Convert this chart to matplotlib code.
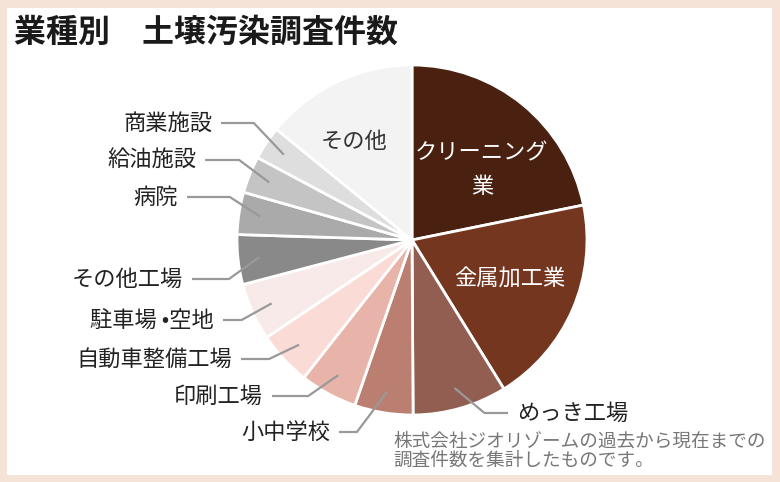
import numpy as np
from matplotlib import pyplot as plt

plt.rcParams['font.family'] = ['Noto Sans CJK JP', 'DejaVu Sans']

# データ(割合, %)
labels = ['クリーニング業', '金属加工業', 'めっき工場', '小中学校', '印刷工場',
          '自動車整備工場', '駐車場 •空地', 'その他工場', '病院', '給油施設',
          '商業施設', 'その他']
values = [21.8, 19.4, 8.7, 5.4, 5.3, 5.0, 5.3, 4.6, 3.9, 3.4, 3.1, 14.1]
colors = ['#4a2110', '#75361f', '#915e51', '#bb7f71', '#e8b4a9', '#fadbd6',
          '#f7eae9', '#898989', '#aaaaaa', '#c4c4c4', '#dedede', '#f3f3f3']

W, H = 780, 482
CX, CY, R = 412, 240, 175

fig = plt.figure(figsize=(W / 100, H / 100), dpi=100)
fig.patch.set_facecolor('#f5e3d8')
# 白いパネル
fig.patches.append(plt.Rectangle((7 / W, (H - 475) / H), (772 - 7) / W, (475 - 8) / H,
                                 transform=fig.transFigure, facecolor='white',
                                 edgecolor='none', zorder=-5))

ax = fig.add_axes([0, 0, 1, 1])
ax.set_zorder(2)
ax.patch.set_alpha(0)
wedges, _ = ax.pie(values, colors=colors, startangle=90, counterclock=False,
                   center=(CX, H - CY), radius=R,
                   wedgeprops=dict(edgecolor='white', linewidth=2))
ax.set_xlim(0, W)
ax.set_ylim(0, H)
ax.set_aspect('equal')
ax.axis('off')

# 外側ラベル(テキスト位置: x, y ピクセル, side)
outside = {
    'めっき工場': (517, 413, 1),
    '小中学校': (330, 432, -1),
    '印刷工場': (263, 396, -1),
    '自動車整備工場': (232, 359, -1),
    '駐車場 •空地': (214, 320, -1),
    'その他工場': (183, 279, -1),
    '病院': (178, 197, -1),
    '給油施設': (196, 160, -1),
    '商業施設': (212, 123, -1),
}

for w, lab in zip(wedges, labels):
    if lab not in outside:
        continue
    tx, ty, side = outside[lab]
    mid = np.deg2rad((w.theta1 + w.theta2) / 2)
    px = CX + 0.88 * R * np.cos(mid)
    py = CY - 0.88 * R * np.sin(mid)
    ex = px + 30 * side
    sx = tx - 9 * side
    ax.plot([px, ex, sx], [H - py, H - ty, H - ty], color='#999999', lw=1.6,
            solid_capstyle='butt')
    ax.text(tx, H - ty, lab, ha='left' if side > 0 else 'right', va='center',
            fontsize=16, color='#222222')

# 内側ラベル
ax.text(354, H - 141, 'その他', ha='center', va='center', fontsize=16, color='#333333')
ax.text(482, H - 170, 'クリーニング\n業', ha='center', va='center', fontsize=16,
        color='white', linespacing=1.6)
ax.text(510, H - 279, '金属加工業', ha='center', va='center', fontsize=16, color='white')

fig.text(14 / W, (H - 33) / H, '業種別　土壌汚染調査件数', ha='left', va='center',
         fontsize=23, fontweight='bold', color='#1a1a1a')
fig.text(393 / W, (H - 451) / H, '株式会社ジオリゾームの過去から現在までの\n調査件数を集計したものです。',
         ha='left', va='center', fontsize=13.4, color='#777777', linespacing=1.05)

fig.savefig('out.png', dpi=100, facecolor=fig.get_facecolor())
